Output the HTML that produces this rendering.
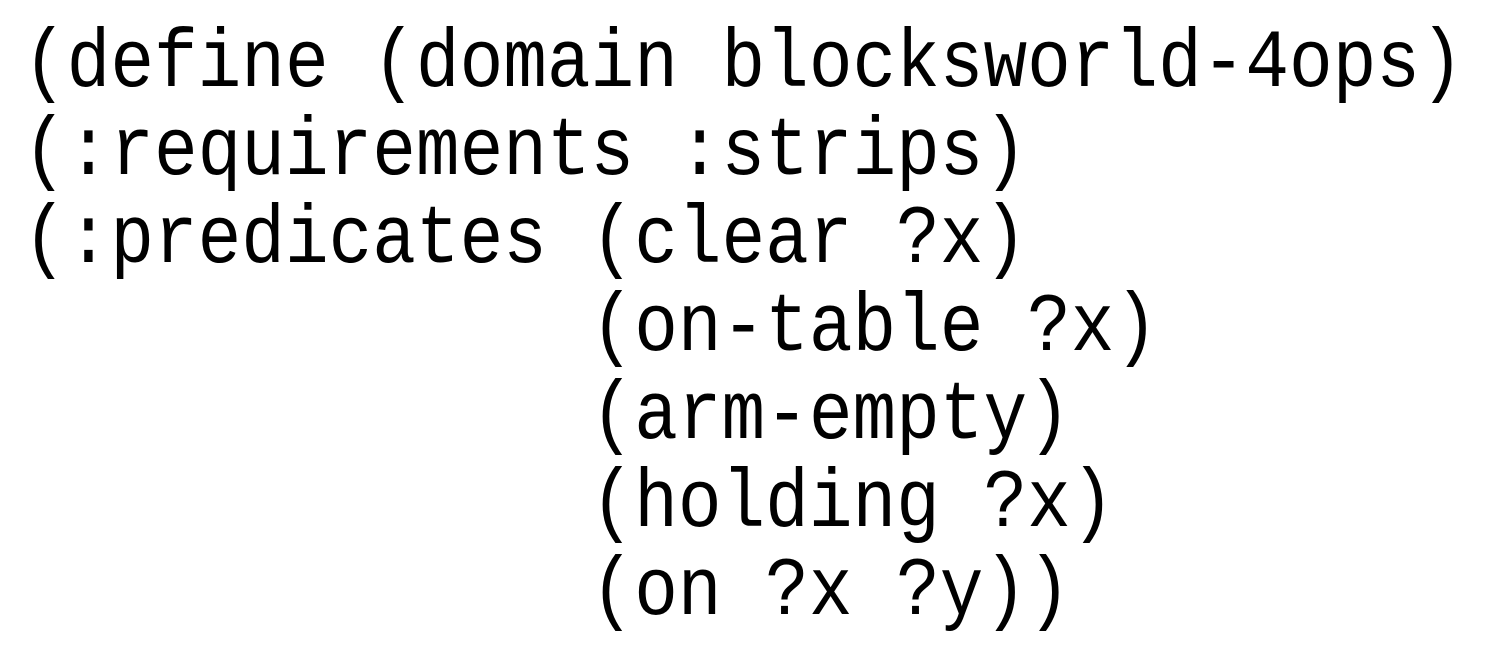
<!DOCTYPE html>
<html><head><meta charset="utf-8"><style>
html,body{margin:0;padding:0;background:#fff;width:1493px;height:661px;overflow:hidden}
pre{margin:0;position:absolute;left:23px;top:21px;font-family:"Liberation Mono","DejaVu Sans Mono",monospace;font-size:75px;line-height:80px;color:#000;transform:scale(0.97,1.1);transform-origin:0 0}
</style></head><body>
<pre>(define (domain blocksworld-4ops)
(:requirements :strips)
(:predicates (clear ?x)
             (on-table ?x)
             (arm-empty)
             (holding ?x)
             (on ?x ?y))</pre>
</body></html>
